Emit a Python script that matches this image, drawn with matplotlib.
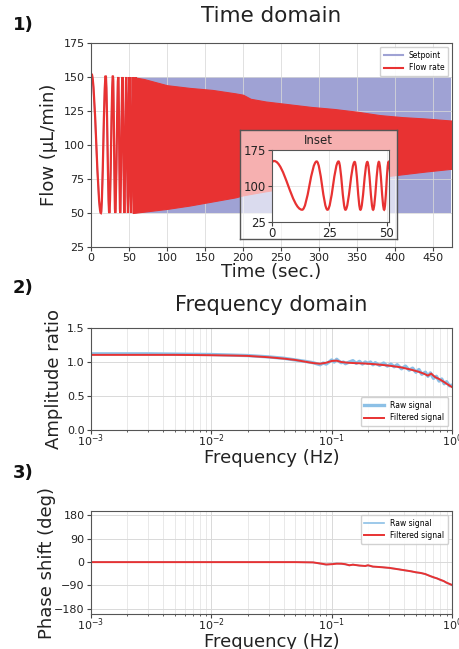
import matplotlib
matplotlib.use("Agg")
import matplotlib.pyplot as plt
from matplotlib.path import Path
from matplotlib.patches import PathPatch
from matplotlib.lines import Line2D
import numpy as np

# ---------------- data ----------------
# time domain: individual extrema of the early (slow) part of the sweep
extrema_t = [0, 1.0, 13.2, 19.5, 24.2, 29.0, 32.0, 36.0, 38.5, 41.5, 44.0, 46.5,
             48.8, 50.7, 52.9, 55.0, 57.0, 59.0, 61.0]
flow_ext = [150, 152, 50, 151, 50, 151, 50, 150, 50, 150, 50, 150,
            50, 150, 50, 150, 50, 150, 50]
setpoint_ext = [150, 150, 50, 150, 50, 150, 50, 150, 50, 150, 50, 150,
                50, 150, 50, 150, 50, 150, 50]
# envelope of the dense (fast) part of the sweep
env_t = [55, 70, 100, 130, 160, 190, 200, 210, 230, 260, 290, 320, 350, 380, 410, 440, 474]
env_upper = [150, 148.5, 144, 142, 140.5, 138, 137, 134, 132, 130, 128, 126.5, 124.5, 122, 120.5, 119.5, 118]
env_lower = [50, 51, 53, 55.5, 58.5, 61.5, 63, 64, 66, 68.5, 70.5, 72, 74.5, 76.5, 78.5, 80.5, 82.5]
setpoint_min = 50
setpoint_max = 150

# frequency domain
amp_f_filt = [1e-3, 2e-3, 5e-3, 1e-2, 1.5e-2, 2e-2, 3e-2, 4e-2, 5e-2, 6e-2, 7e-2, 8e-2, 9e-2,
              0.10, 0.11, 0.12, 0.135, 0.15, 0.18, 0.22, 0.27, 0.32, 0.38, 0.45, 0.52,
              0.58, 0.63, 0.67, 0.72, 0.78, 0.85, 0.92, 1.0]
amp_filt = [1.105, 1.105, 1.105, 1.10, 1.095, 1.09, 1.07, 1.05, 1.03, 1.005, 0.985, 0.975, 0.99,
            1.015, 1.02, 1.0, 0.99, 0.985, 0.98, 0.97, 0.955, 0.94, 0.92, 0.89, 0.86,
            0.83, 0.80, 0.83, 0.78, 0.75, 0.71, 0.67, 0.63]
amp_f_raw = [1e-3, 3e-3, 1e-2, 2e-2, 3e-2, 4e-2, 5e-2, 6e-2, 7e-2, 8e-2, 8.5e-2, 9e-2, 9.5e-2,
             0.10, 0.105, 0.11, 0.115, 0.12, 0.125, 0.13, 0.14, 0.15, 0.16, 0.17, 0.18, 0.19,
             0.20, 0.21, 0.22, 0.23, 0.25, 0.27, 0.29, 0.31, 0.33, 0.35, 0.38, 0.41, 0.44,
             0.47, 0.50, 0.53, 0.56, 0.60, 0.63, 0.66, 0.70, 0.74, 0.78, 0.82, 0.86, 0.90, 0.95, 1.0]
amp_raw = [1.12, 1.12, 1.11, 1.095, 1.075, 1.055, 1.03, 1.01, 0.99, 0.96, 0.985, 0.97, 1.0,
           1.03, 1.0, 1.04, 1.01, 0.99, 1.0, 0.975, 1.0, 1.02, 0.98, 1.01, 0.97, 1.0,
           0.98, 1.0, 0.96, 0.99, 0.95, 0.985, 0.94, 0.97, 0.93, 0.96, 0.90, 0.94, 0.88,
           0.91, 0.85, 0.89, 0.82, 0.85, 0.79, 0.84, 0.76, 0.79, 0.72, 0.75, 0.68, 0.71, 0.65, 0.66]

ph_f = [1e-3, 1e-2, 0.05, 0.07, 0.08, 0.09, 0.10, 0.11, 0.12, 0.13, 0.14, 0.15, 0.17, 0.19,
        0.20, 0.22, 0.25, 0.30, 0.35, 0.40, 0.45, 0.50, 0.55, 0.60, 0.65, 0.70, 0.75,
        0.80, 0.85, 0.90, 0.95, 1.0]
ph_filt = [0, 0, 0, -1, -5, -9, -8, -6, -6, -8, -12, -10, -13, -15,
           -12, -17, -19, -22, -27, -31, -35, -39, -42, -46, -53, -58, -63,
           -68, -73, -79, -84, -88]
ph_raw = [0, 0, 0, -1, -6, -10, -7, -5, -7, -9, -13, -9, -14, -14,
          -13, -18, -18, -23, -26, -32, -34, -40, -41, -47, -52, -60, -62,
          -70, -72, -81, -83, -90]

# ---------------- style ----------------
RED = '#e83232'
BLUE_SP = '#9fa2d4'
BLUE_RAW = '#8cc0e6'
GRID = '#d9d9d9'
TXT = '#222222'

plt.rcParams['font.family'] = ['DejaVu Sans']
plt.rcParams['axes.edgecolor'] = '#555555'
plt.rcParams['xtick.color'] = '#444444'
plt.rcParams['ytick.color'] = '#444444'
plt.rcParams['xtick.labelcolor'] = TXT
plt.rcParams['ytick.labelcolor'] = TXT


def wave_path(times, values, k=0.3642):
    verts = [(times[0], values[0])]
    codes = [Path.MOVETO]
    for i in range(1, len(times)):
        t0, t1 = times[i - 1], times[i]
        y0, y1 = values[i - 1], values[i]
        dt = t1 - t0
        verts += [(t0 + k * dt, y0), (t1 - k * dt, y1), (t1, y1)]
        codes += [Path.CURVE4] * 3
    return Path(verts, codes)


fig = plt.figure(figsize=(4.59, 6.49), dpi=100)

# ---------------- panel 1: time domain ----------------
ax1 = fig.add_axes([0.198, 0.6194, 0.787, 0.3143])
ax1.fill_between(env_t, setpoint_min, setpoint_max, color=BLUE_SP, lw=0, zorder=1)
ax1.add_patch(PathPatch(wave_path(extrema_t, setpoint_ext), fill=False,
                        edgecolor=BLUE_SP, lw=1.2, zorder=1))
ax1.fill_between(env_t, env_lower, env_upper, color=RED, lw=0.8, edgecolor=RED, zorder=2)
ax1.add_patch(PathPatch(wave_path(extrema_t, flow_ext), fill=False,
                        edgecolor=RED, lw=1.6, zorder=2))
ax1.set_xlim(0, 475)
ax1.set_ylim(25, 175)
ax1.set_xticks(np.arange(0, 451, 50))
ax1.set_yticks(np.arange(25, 176, 25))
ax1.tick_params(labelsize=8, length=3, pad=1.5)
ax1.grid(True, color=GRID, lw=0.7, alpha=0.8)
ax1.xaxis.set_zorder(1.5)
ax1.yaxis.set_zorder(1.5)
ax1.set_title('Time domain', fontsize=15.5, pad=15, color=TXT)
ax1.set_xlabel('Time (sec.)', fontsize=13, labelpad=0, color=TXT)
ax1.set_ylabel('Flow (µL/min)', fontsize=13, labelpad=4, color=TXT)
h1 = [Line2D([], [], color=BLUE_SP, lw=1.5, label='Setpoint'),
      Line2D([], [], color=RED, lw=1.5, label='Flow rate')]
ax1.legend(handles=h1, loc='upper right', fontsize=5.5, handlelength=2.5,
           borderpad=0.5, labelspacing=0.5, framealpha=0.9)

# inset box
box = fig.add_axes([0.523, 0.6317, 0.342, 0.168])
box.set_facecolor((1, 1, 1, 0.62))
box.set_xticks([])
box.set_yticks([])
for s in box.spines.values():
    s.set_color('#555555')
    s.set_linewidth(1.0)
box.text(0.5, 0.9, 'Inset', ha='center', va='center', fontsize=8.5,
         transform=box.transAxes, color=TXT)
box.set_zorder(3)

axi = fig.add_axes([0.592, 0.6584, 0.256, 0.1105])
axi.set_facecolor('white')
axi.add_patch(PathPatch(wave_path(extrema_t, flow_ext), fill=False,
                        edgecolor=RED, lw=1.6, zorder=2))
axi.set_xlim(0, 51)
axi.set_ylim(25, 175)
axi.set_xticks([0, 25, 50])
axi.set_yticks([25, 100, 175])
axi.tick_params(labelsize=8.5, length=3, pad=1)
axi.grid(True, color=GRID, lw=0.6, alpha=0.7)
axi.set_zorder(4)

# ---------------- panel 2: amplitude ----------------
ax2 = fig.add_axes([0.198, 0.3374, 0.787, 0.1572])
ax2.plot(amp_f_raw, amp_raw, color=BLUE_RAW, lw=2.4, label='Raw signal')
ax2.plot(amp_f_filt, amp_filt, color=RED, lw=1.4, label='Filtered signal')
ax2.set_xscale('log')
ax2.set_xlim(1e-3, 1)
ax2.set_ylim(0, 1.5)
ax2.set_yticks([0, 0.5, 1.0, 1.5])
ax2.tick_params(labelsize=8, length=3, pad=1.5)
ax2.tick_params(axis='x', pad=-1.5)
ax2.tick_params(which='minor', length=1.5)
ax2.grid(True, which='major', color=GRID, lw=0.7)
ax2.grid(True, which='minor', axis='x', color=GRID, lw=0.5, alpha=0.8)
ax2.set_title('Frequency domain', fontsize=15, pad=12, color=TXT)
ax2.set_xlabel('Frequency (Hz)', fontsize=13, labelpad=0, color=TXT)
ax2.set_ylabel('Amplitude ratio', fontsize=13, labelpad=3, color=TXT)
ax2.legend(loc='lower right', fontsize=5.5, handlelength=2.6, borderpad=0.5,
           labelspacing=0.45, framealpha=0.9)

# ---------------- panel 3: phase ----------------
ax3 = fig.add_axes([0.198, 0.0539, 0.787, 0.1587])
ax3.plot(ph_f, ph_raw, color=BLUE_RAW, lw=1.2, label='Raw signal')
ax3.plot(ph_f, ph_filt, color=RED, lw=1.4, label='Filtered signal')
ax3.set_xscale('log')
ax3.set_xlim(1e-3, 1)
ax3.set_ylim(-200, 197)
ax3.set_yticks([-180, -90, 0, 90, 180])
ax3.tick_params(labelsize=8, length=3, pad=1.5)
ax3.tick_params(axis='x', pad=-1.5)
ax3.tick_params(which='minor', length=1.5)
ax3.grid(True, which='major', color=GRID, lw=0.7)
ax3.grid(True, which='minor', axis='x', color=GRID, lw=0.5, alpha=0.8)
ax3.set_xlabel('Frequency (Hz)', fontsize=13, labelpad=0, color=TXT)
ax3.set_ylabel('Phase shift (deg)', fontsize=13, labelpad=-1, color=TXT)
ax3.legend(loc='upper right', fontsize=5.5, handlelength=2.6, borderpad=0.5,
           labelspacing=0.45, framealpha=0.9)

# panel labels
fig.text(0.028, 0.962, '1)', fontsize=13, fontweight='bold', va='center', color='#111111')
fig.text(0.028, 0.557, '2)', fontsize=13, fontweight='bold', va='center', color='#111111')
fig.text(0.028, 0.271, '3)', fontsize=13, fontweight='bold', va='center', color='#111111')

fig.savefig('out.png', dpi=100)
